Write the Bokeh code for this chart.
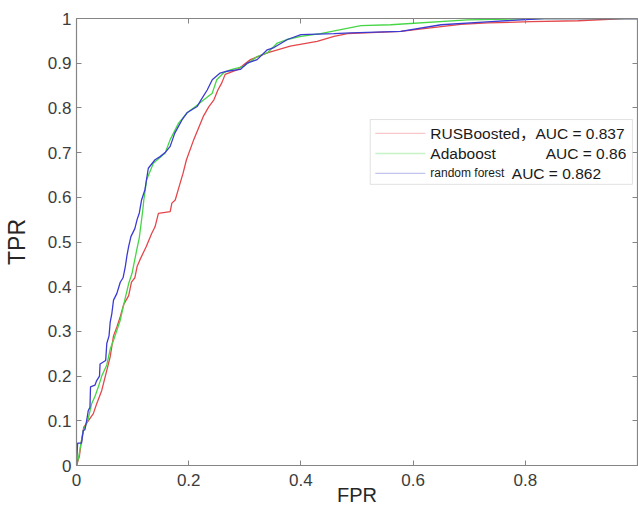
from bokeh.plotting import figure
from bokeh.models import (LinearAxis, FixedTicker, CustomJSTickFormatter, Range1d,
                          Label, BoxAnnotation)
from bokeh.embed import file_html
from bokeh.resources import INLINE

# ---------------- data ----------------
rus_fpr = [0, 0.005, 0.008, 0.013, 0.021, 0.030, 0.036, 0.045, 0.054, 0.060, 0.066, 0.072,
           0.078, 0.084, 0.093, 0.098, 0.104, 0.108, 0.113, 0.124, 0.134, 0.140, 0.146, 0.167,
           0.170, 0.176, 0.182, 0.190, 0.196, 0.209, 0.226, 0.236, 0.245, 0.252, 0.259, 0.265,
           0.286, 0.310, 0.340, 0.381, 0.429, 0.459, 0.483, 0.578, 0.650, 0.685, 0.733, 0.810,
           0.894, 0.977, 1.0]
rus_tpr = [0, 0.020, 0.048, 0.086, 0.100, 0.116, 0.138, 0.168, 0.213, 0.243, 0.290, 0.310,
           0.333, 0.360, 0.380, 0.410, 0.420, 0.445, 0.460, 0.489, 0.519, 0.534, 0.564, 0.568,
           0.587, 0.594, 0.620, 0.654, 0.684, 0.729, 0.781, 0.803, 0.818, 0.840, 0.856, 0.875,
           0.885, 0.908, 0.923, 0.938, 0.949, 0.960, 0.966, 0.971, 0.982, 0.987, 0.990, 0.993,
           0.995, 1.0, 1.0]

ada_fpr = [0, 0.004, 0.008, 0.012, 0.020, 0.027, 0.033, 0.039, 0.045, 0.054, 0.060, 0.066,
           0.078, 0.086, 0.093, 0.099, 0.107, 0.112, 0.115, 0.118, 0.120, 0.125, 0.137, 0.158,
           0.167, 0.182, 0.197, 0.212, 0.227, 0.242, 0.250, 0.262, 0.274, 0.298, 0.322, 0.340,
           0.358, 0.375, 0.400, 0.435, 0.471, 0.507, 0.560, 0.697, 0.834, 1.0]
ada_tpr = [0, 0.020, 0.050, 0.078, 0.100, 0.138, 0.155, 0.176, 0.200, 0.225, 0.260, 0.280,
           0.325, 0.370, 0.407, 0.430, 0.480, 0.510, 0.540, 0.570, 0.594, 0.639, 0.676, 0.699,
           0.729, 0.766, 0.789, 0.803, 0.818, 0.833, 0.863, 0.878, 0.885, 0.893, 0.915, 0.923,
           0.945, 0.953, 0.960, 0.966, 0.975, 0.984, 0.986, 0.997, 1.0, 1.0]

rf_fpr = [0, 0.002, 0.009, 0.012, 0.015, 0.018, 0.021, 0.024, 0.025, 0.033, 0.036, 0.041,
          0.042, 0.052, 0.054, 0.058, 0.060, 0.063, 0.066, 0.072, 0.078, 0.083, 0.087, 0.090,
          0.093, 0.097, 0.104, 0.108, 0.112, 0.116, 0.122, 0.128, 0.140, 0.149, 0.158, 0.167,
          0.175, 0.188, 0.197, 0.215, 0.222, 0.233, 0.242, 0.256, 0.268, 0.292, 0.304, 0.322,
          0.340, 0.352, 0.376, 0.400, 0.459, 0.489, 0.578, 0.650, 0.739, 0.834, 1.0]
rf_tpr = [0, 0.050, 0.050, 0.078, 0.080, 0.100, 0.123, 0.130, 0.176, 0.180, 0.190, 0.200,
          0.227, 0.235, 0.273, 0.290, 0.320, 0.340, 0.370, 0.385, 0.410, 0.420, 0.445, 0.470,
          0.490, 0.512, 0.530, 0.550, 0.565, 0.594, 0.617, 0.665, 0.684, 0.691, 0.700, 0.714,
          0.743, 0.773, 0.789, 0.803, 0.818, 0.840, 0.863, 0.878, 0.882, 0.886, 0.900, 0.908,
          0.930, 0.935, 0.953, 0.964, 0.966, 0.968, 0.971, 0.986, 0.993, 1.0, 1.0]

series_names = ["RUSBoosted", "Adaboost", "random forest"]
auc_values = ["0.837", "0.86", "0.862"]
x_ticks = [0, 0.2, 0.4, 0.6, 0.8, 1.0]
y_ticks = [0, 0.1, 0.2, 0.3, 0.4, 0.5, 0.6, 0.7, 0.8, 0.9, 1.0]

# ---------------- styles ----------------
RED, GREEN, BLUE = "#e4474b", "#45d645", "#3b3bd2"
AXIS_COLOR = "#858585"
LABEL_COLOR = "#3c3c3c"
FONT = "Liberation Sans"

p = figure(width=638, height=509, x_range=Range1d(0, 1), y_range=Range1d(0, 1),
           output_backend="svg", toolbar_location=None,
           min_border_left=76, min_border_right=1, min_border_top=18, min_border_bottom=44)
p.grid.visible = False
p.outline_line_color = None
p.background_fill_color = "white"
p.border_fill_color = "white"

p.add_layout(LinearAxis(), "above")
p.add_layout(LinearAxis(), "right")

xfmt = CustomJSTickFormatter(code="""
    if (Math.abs(tick - 1) < 1e-9) { return ''; }
    return tick === 0 ? '0' : tick.toFixed(1);""")
yfmt = CustomJSTickFormatter(code="""
    if (Math.abs(tick - 1) < 1e-9) { return '1'; }
    return tick === 0 ? '0' : tick.toFixed(1);""")
blank = CustomJSTickFormatter(code="return '';")

for ax, ticks in ((p.below[0], x_ticks), (p.above[0], x_ticks),
                  (p.left[0], y_ticks), (p.right[0], y_ticks)):
    ax.ticker = FixedTicker(ticks=ticks)
    ax.axis_line_color = AXIS_COLOR
    ax.axis_line_width = 1.2
    ax.major_tick_line_color = AXIS_COLOR
    ax.major_tick_in = 5
    ax.major_tick_out = 0
    ax.minor_tick_line_color = None
    ax.major_label_text_font = FONT
    ax.major_label_text_font_size = "17px"
    ax.major_label_text_color = LABEL_COLOR

p.below[0].formatter = xfmt
p.below[0].major_label_standoff = 8
p.left[0].formatter = yfmt
p.left[0].major_label_standoff = 5
for ax in (p.above[0], p.right[0]):
    ax.formatter = blank
    ax.major_label_standoff = 0
    ax.major_label_text_font_size = "1px"

p.below[0].axis_label = "FPR"
p.below[0].axis_label_text_font = FONT
p.below[0].axis_label_text_font_size = "20px"
p.below[0].axis_label_text_font_style = "normal"
p.below[0].axis_label_text_color = "#262626"
p.below[0].axis_label_standoff = -5

p.left[0].axis_label = "TPR"
p.left[0].axis_label_text_font = FONT
p.left[0].axis_label_text_font_size = "23px"
p.left[0].axis_label_text_font_style = "normal"
p.left[0].axis_label_text_color = "#262626"
p.left[0].axis_label_standoff = 15

# ---------------- curves ----------------
p.line(rus_fpr, rus_tpr, line_color=RED, line_width=1.3)
p.line(ada_fpr, ada_tpr, line_color=GREEN, line_width=1.3)
p.line(rf_fpr, rf_tpr, line_color=BLUE, line_width=1.3)

# ---------------- legend (drawn by hand: mixed font sizes) ----------------
p.add_layout(BoxAnnotation(left=0.5236, right=0.991, top=0.774, bottom=0.629,
                           fill_color="white", fill_alpha=1.0,
                           line_color="#9a9a9a", line_width=1))
row_y = [0.743, 0.698, 0.6535]
for yy, c in zip(row_y, (RED, GREEN, BLUE)):
    p.add_layout(BoxAnnotation(left=0.5326, right=0.6218, top=yy, bottom=yy,
                               fill_alpha=0, line_color=c, line_width=1.3))

leg_font = "15.5px"
CJK_FONT = "Liberation Sans, Noto Sans CJK SC"
p.add_layout(Label(x=0.6307, y=row_y[0], text=f"{series_names[0]}，AUC = {auc_values[0]}",
                   text_font=CJK_FONT, text_font_size=leg_font, text_color="#1a1a1a",
                   text_baseline="middle", text_align="left"))
p.add_layout(Label(x=0.6307, y=row_y[1], text=series_names[1],
                   text_font=FONT, text_font_size=leg_font, text_color="#1a1a1a",
                   text_baseline="middle", text_align="left"))
p.add_layout(Label(x=0.980, y=row_y[1], text=f"AUC = {auc_values[1]}",
                   text_font=FONT, text_font_size=leg_font, text_color="#1a1a1a",
                   text_baseline="middle", text_align="right"))
p.add_layout(Label(x=0.6307, y=row_y[2], text=series_names[2],
                   text_font=FONT, text_font_size="12px", text_color="#1a1a1a",
                   text_baseline="middle", text_align="left"))
p.add_layout(Label(x=0.776, y=row_y[2], text=f"AUC = {auc_values[2]}",
                   text_font=FONT, text_font_size=leg_font, text_color="#1a1a1a",
                   text_baseline="middle", text_align="left"))

open("out.html", "w").write(file_html(p, INLINE))
